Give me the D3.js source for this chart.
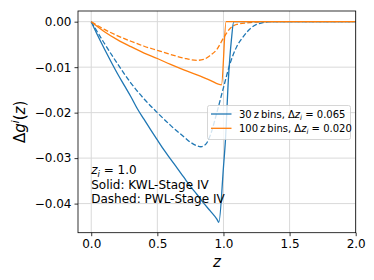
<!DOCTYPE html>
<html>
<head>
<meta charset="utf-8">
<script src="https://cdn.jsdelivr.net/npm/d3@7"></script>
<style>
  body { margin: 0; background: #fff; }
  text { font-family: "DejaVu Sans", sans-serif; }
</style>
</head>
<body>
<div id="chart"></div>
<script>
// courbes : z et Δg^i(z)
const blueSolidZ = [0, 0.05, 0.1, 0.15, 0.2, 0.25, 0.3, 0.35, 0.4, 0.45, 0.5, 0.55, 0.6, 0.65, 0.7, 0.75, 0.8, 0.85, 0.9, 0.95, 0.965, 1.0, 1.015, 1.037, 1.06, 1.078, 2.0];
const blueSolidG = [0, -0.0031, -0.006, -0.0088, -0.0115, -0.014, -0.0165, -0.0192, -0.0215, -0.0238, -0.026, -0.0282, -0.0302, -0.0322, -0.0342, -0.0362, -0.038, -0.0399, -0.0416, -0.0434, -0.0441, -0.032, -0.026, -0.0128, -0.004, 0, 0];

const blueDashZ = [0, 0.1, 0.2, 0.3, 0.4, 0.5, 0.6, 0.7, 0.75, 0.8, 0.83, 0.87, 0.9, 0.95, 1.0, 1.05, 1.1, 1.15, 1.2, 1.25, 1.3, 1.35, 2.0];
const blueDashG = [0, -0.0048, -0.0093, -0.0135, -0.017, -0.020, -0.0228, -0.0253, -0.0265, -0.0273, -0.0275, -0.0268, -0.0250, -0.020, -0.0145, -0.0092, -0.0055, -0.0033, -0.0016, -0.0006, -0.0002, 0, 0];

const orangeSolidZ = [0, 0.1, 0.2, 0.3, 0.4, 0.5, 0.6, 0.7, 0.8, 0.9, 0.985, 1.02, 2.0];
const orangeSolidG = [0, -0.0022, -0.0040, -0.0055, -0.0069, -0.0081, -0.0094, -0.0106, -0.0117, -0.0129, -0.0139, 0, 0];

const orangeDashZ = [0, 0.1, 0.2, 0.3, 0.4, 0.5, 0.6, 0.7, 0.8, 0.85, 0.9, 0.95, 1.0, 1.05, 1.1, 1.2, 1.3, 2.0];
const orangeDashG = [0, -0.0017, -0.0031, -0.0043, -0.0054, -0.0063, -0.0072, -0.0080, -0.0085, -0.0083, -0.0074, -0.0061, -0.0036, -0.0015, -0.0006, -0.0002, 0, 0];

const xTicks = [0, 0.5, 1.0, 1.5, 2.0];
const yTicks = [0, -0.01, -0.02, -0.03, -0.04];

const blue = "#1f77b4", orange = "#ff7f0e";

const W = 374, H = 280;
const margin = { top: 11, right: 18.3, bottom: 47.3, left: 78 };
const width = W - margin.left - margin.right;
const height = H - margin.top - margin.bottom;

const svg = d3.select("#chart").append("svg")
    .attr("width", W).attr("height", H);

const g = svg.append("g")
    .attr("transform", `translate(${margin.left},${margin.top})`);

const x = d3.scaleLinear().domain([-0.1, 2.0]).range([0, width]);
const y = d3.scaleLinear().domain([-0.0464, 0.00235]).range([height, 0]);

// grille
g.append("g").selectAll("line").data(xTicks).enter().append("line")
    .attr("x1", d => x(d)).attr("x2", d => x(d))
    .attr("y1", 0).attr("y2", height)
    .attr("stroke", "#d9d9d9").attr("stroke-width", 1);
g.append("g").selectAll("line").data(yTicks).enter().append("line")
    .attr("y1", d => y(d)).attr("y2", d => y(d))
    .attr("x1", 0).attr("x2", width)
    .attr("stroke", "#d9d9d9").attr("stroke-width", 1);

const line = d3.line().x(d => x(d[0])).y(d => y(d[1])).curve(d3.curveMonotoneX);
const zip = (a, b) => a.map((v, i) => [v, b[i]]);

const clip = svg.append("clipPath").attr("id", "clip").append("rect")
    .attr("width", width).attr("height", height);

const series = [
    { z: blueDashZ, g: blueDashG, color: blue, dash: "5,2.2" },
    { z: orangeDashZ, g: orangeDashG, color: orange, dash: "5,2.2" },
    { z: blueSolidZ, g: blueSolidG, color: blue, dash: null },
    { z: orangeSolidZ, g: orangeSolidG, color: orange, dash: null }
];

g.append("g").attr("clip-path", "url(#clip)")
  .selectAll("path").data(series).enter().append("path")
    .attr("d", d => line(zip(d.z, d.g)))
    .attr("fill", "none")
    .attr("stroke", d => d.color)
    .attr("stroke-width", 1.3)
    .attr("stroke-dasharray", d => d.dash);

// axes
const xAxis = g.append("g")
    .attr("transform", `translate(0,${height})`)
    .call(d3.axisBottom(x).tickValues(xTicks).tickFormat(d3.format(".1f")).tickSizeOuter(0).tickSize(3.5).tickPadding(3));
const yAxis = g.append("g")
    .call(d3.axisLeft(y).tickValues(yTicks).tickFormat(d3.format(".2f")).tickSizeOuter(0).tickSize(3.5).tickPadding(3));
[xAxis, yAxis].forEach(a => {
    a.select(".domain").remove();
    a.selectAll("text").attr("font-size", 12).attr("fill", "#000")
        .style("font-family", "DejaVu Sans");
    a.selectAll("line").attr("stroke", "#000").attr("stroke-width", 0.8);
});

g.append("rect")
    .attr("width", width).attr("height", height)
    .attr("fill", "none").attr("stroke", "#000").attr("stroke-width", 0.8);

// légende
const leg = g.append("g").attr("transform", `translate(${207.5 - margin.left},${105.5 - margin.top})`);
leg.append("rect")
    .attr("width", 143).attr("height", 34).attr("rx", 2)
    .attr("fill", "#fff").attr("fill-opacity", 0.8)
    .attr("stroke", "#cccccc").attr("stroke-width", 0.8);
const legItems = [
    { color: blue, n: "30", dz: "0.065" },
    { color: orange, n: "100", dz: "0.020" }
];
legItems.forEach((d, i) => {
    const yy = 8.5 + i * 14.3;
    leg.append("line")
        .attr("x1", 3.5).attr("x2", 24)
        .attr("y1", yy).attr("y2", yy)
        .attr("stroke", d.color).attr("stroke-width", 1.3);
    const t = leg.append("text")
        .attr("x", 31.5).attr("y", yy + 3.5)
        .attr("font-size", 10);
    t.append("tspan").text(`${d.n}\u2009z\u2009bins, Δ`);
    t.append("tspan").attr("font-style", "italic").text("z");
    t.append("tspan").attr("font-style", "italic").attr("font-size", 7).attr("dy", 2).text("i");
    t.append("tspan").attr("dy", -2).text(` = ${d.dz}`);
});

// annotation
const ann = g.append("text").attr("font-size", 12).attr("fill", "#000");
const l1 = ann.append("tspan").attr("x", x(0)).attr("y", 174 - margin.top);
l1.append("tspan").attr("font-style", "italic").text("z");
l1.append("tspan").attr("font-style", "italic").attr("font-size", 8.5).attr("dy", 2.5).text("i");
l1.append("tspan").attr("dy", -2.5).text(" = 1.0");
ann.append("tspan").attr("x", x(0)).attr("y", 188.5 - margin.top).text("Solid: KWL-Stage IV");
ann.append("tspan").attr("x", x(0)).attr("y", 202.5 - margin.top).text("Dashed: PWL-Stage IV");

// titres des axes
svg.append("text")
    .attr("x", margin.left + width / 2).attr("y", 267)
    .attr("text-anchor", "middle").attr("font-size", 15)
    .attr("font-style", "italic").text("z");

const yl = svg.append("text")
    .attr("transform", `translate(25,${margin.top + height / 2}) rotate(-90)`)
    .attr("text-anchor", "middle").attr("font-size", 15);
yl.append("tspan").text("Δ");
yl.append("tspan").attr("font-style", "italic").text("g");
yl.append("tspan").attr("font-style", "italic").attr("font-size", 10.5).attr("dy", -6).text("i");
yl.append("tspan").attr("dy", 6).text("(");
yl.append("tspan").attr("font-style", "italic").text("z");
yl.append("tspan").text(")");
</script>
</body>
</html>
